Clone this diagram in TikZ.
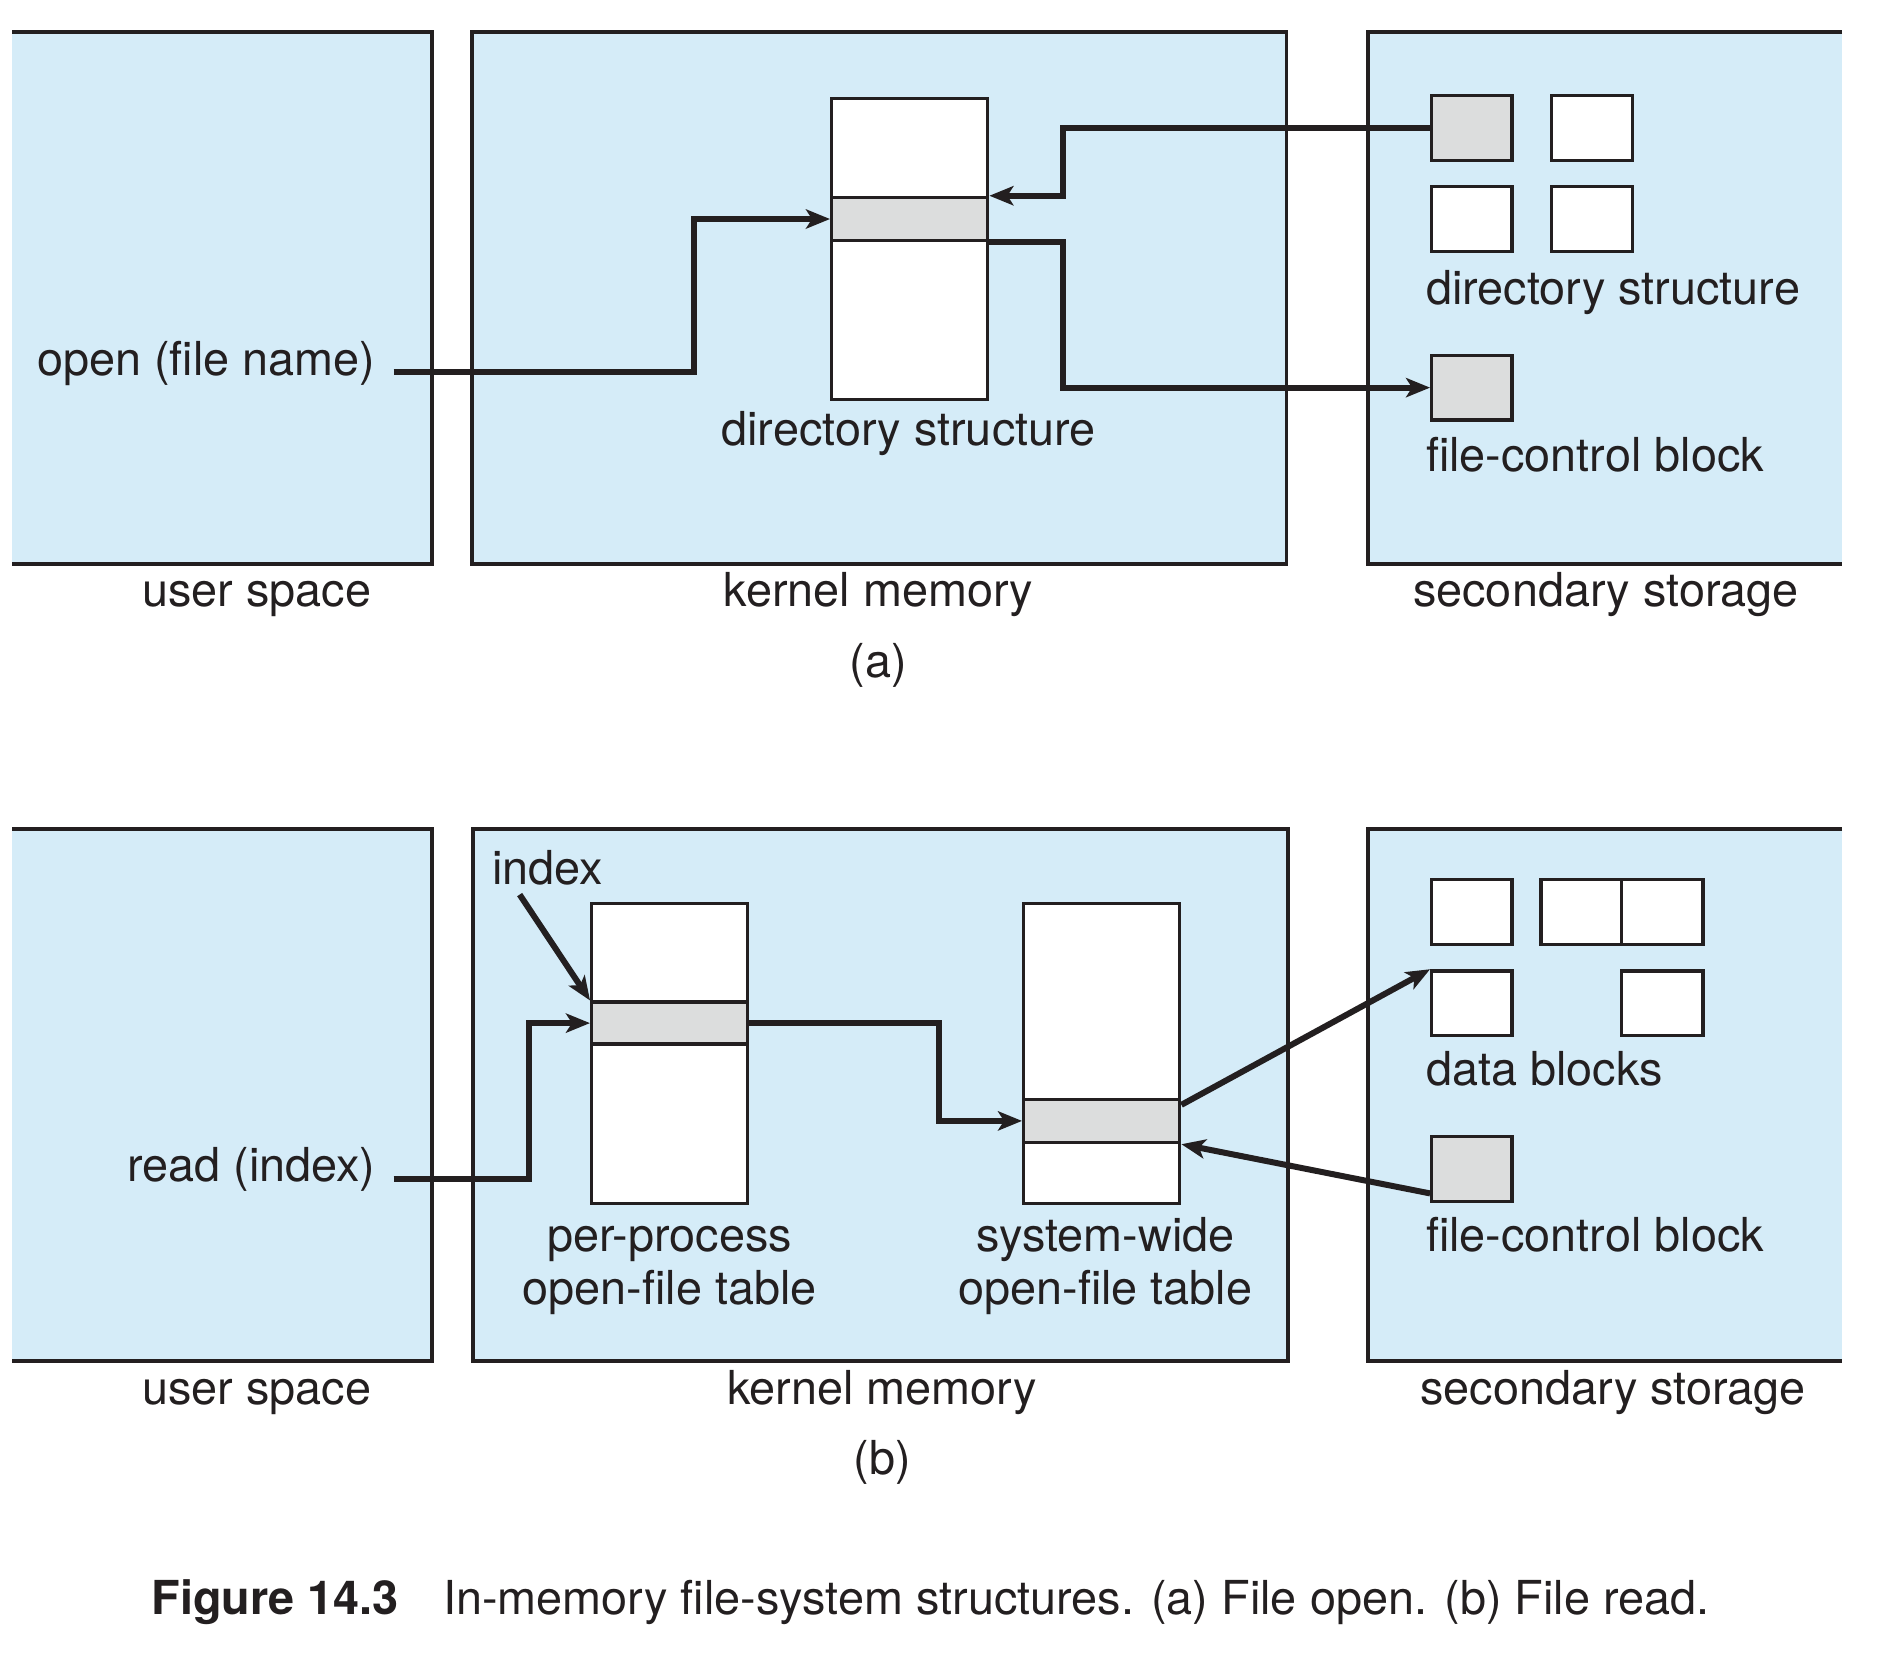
\documentclass[tikz,border=0pt]{standalone}
\usepackage{fontspec}
\setmainfont{TeX Gyre Heros}
\usetikzlibrary{arrows.meta}
\definecolor{memblue}{RGB}{213,236,248}
\definecolor{rowgray}{RGB}{220,221,221}
\definecolor{ink}{RGB}{35,31,32}
\tikzset{
  region/.style={fill=memblue,draw=none},
  rim/.style={draw=ink,line width=3.2pt},
  tbl/.style={draw=ink,line width=2.8pt,fill=white,minimum width=130pt,inner sep=0pt},
  trow/.style={draw=ink,line width=2.8pt,fill=rowgray,minimum width=130pt,minimum height=36pt,inner sep=0pt},
  blk/.style={draw=ink,line width=2.8pt,fill=white,minimum width=67pt,minimum height=54pt,inner sep=0pt},
  fcb/.style={blk,fill=rowgray},
  lbl/.style={inner sep=0pt,text=ink},
  conn/.style={draw=ink,line width=5pt,-{Stealth[length=20pt,width=16pt,inset=5pt]}},
}
\begin{document}
\begin{tikzpicture}[x=1pt,y=-1pt,every node/.style={font=\fontsize{39pt}{44pt}\selectfont}]
\useasboundingbox (0,0) rectangle (1569,1388.2);
% (a) file open
\fill[region] (10,27) rectangle (360,470);
\fill[region] (393,27) rectangle (1072,470);
\fill[region] (1140,27) rectangle (1535,470);
\draw[rim] (10,27) -- (360,27) -- (360,470) -- (10,470);
\draw[rim] (393,27) rectangle (1072,470);
\draw[rim] (1535,27) -- (1140,27) -- (1140,470) -- (1535,470);
\node[tbl,minimum height=251pt] (dirtab) at (758,207.5) {};
\node[trow] (dirrow) at (758,182.5) {};
\node[lbl,anchor=mid east] (opentxt) at (313,310) {open (file name)};
\node[lbl,anchor=mid] (dirlbl) at (757,369) {directory structure};
\node[fcb] (dirsq) at (1226.5,106.5) {};
\node[blk] (sq2) at (1326.5,106.5) {};
\node[blk] (sq3) at (1226.5,182.5) {};
\node[blk] (sq4) at (1326.5,182.5) {};
\node[lbl,anchor=mid west] (dirlbl2) at (1188,251) {directory structure};
\node[fcb] (fcbsq) at (1226.5,323) {};
\node[lbl,anchor=mid west] (fcblbl) at (1188,390) {file-control block};
\node[lbl,anchor=mid] (userA) at (214,503) {user space};
\node[lbl,anchor=mid] (kernA) at (732,503) {kernel memory};
\node[lbl,anchor=mid] (secA) at (1338,503) {secondary storage};
\node[lbl,anchor=mid] (partA) at (732,562) {(a)};
\coordinate (jogopen) at (578,0);
\coordinate (jogdir) at (886,0);
\draw[conn] ([xshift=15pt]opentxt.mid east) -| (jogopen |- dirrow.west) -- (dirrow.west);
\draw[conn] (dirsq.west) -| (jogdir |- dirrow.north east) -- (dirrow.north east);
\draw[conn] (dirrow.south east) -| (jogdir |- fcbsq.west) -- (fcbsq.west);
% (b) file read
\fill[region] (10,691) rectangle (360,1134);
\fill[region] (394,691) rectangle (1073,1134);
\fill[region] (1140,691) rectangle (1535,1134);
\draw[rim] (10,691) -- (360,691) -- (360,1134) -- (10,1134);
\draw[rim] (394,691) rectangle (1073,1134);
\draw[rim] (1535,691) -- (1140,691) -- (1140,1134) -- (1535,1134);
\node[tbl,minimum height=250pt] (pptab) at (558,878) {};
\node[trow,minimum height=35pt] (pprow) at (558,852.5) {};
\node[tbl,minimum height=250pt] (swtab) at (918,878) {};
\node[trow] (swrow) at (918,934) {};
\node[lbl,anchor=mid west] (idx) at (410,734) {index};
\node[lbl,anchor=mid east] (readtxt) at (313,982) {read (index)};
\node[lbl,anchor=mid] (pplbl) at (558,1040) {per-process};
\node[lbl,anchor=mid] (pplbl2) at (558,1084) {open-file table};
\node[lbl,anchor=mid] (swlbl) at (921,1040) {system-wide};
\node[lbl,anchor=mid] (swlbl2) at (921,1084) {open-file table};
\node[blk] (db1) at (1226.5,760) {};
\node[blk] (db2) at (1317.5,760) {};
\node[blk,minimum width=68pt] (db3) at (1385,760) {};
\node[blk] (db4) at (1226.5,836) {};
\node[blk,minimum width=68pt] (db5) at (1385,836) {};
\node[lbl,anchor=mid west] (dblbl) at (1188,902) {data blocks};
\node[fcb] (fcbsq2) at (1226.5,974) {};
\node[lbl,anchor=mid west] (fcblbl2) at (1188,1040) {file-control block};
\node[lbl,anchor=mid] (userB) at (214,1168) {user space};
\node[lbl,anchor=mid] (kernB) at (735,1168) {kernel memory};
\node[lbl,anchor=mid] (secB) at (1344,1168) {secondary storage};
\node[lbl,anchor=mid] (partB) at (735,1226) {(b)};
\coordinate (jogread) at (441,0);
\coordinate (jogpp) at (782,0);
\draw[conn] ([xshift=15pt]readtxt.mid east) -| (jogread |- pprow.west) -- (pprow.west);
\draw[conn] (pprow.east) -| (jogpp |- swrow.west) -- (swrow.west);
\draw[conn] ([xshift=23pt,yshift=-8pt]idx.south west) -- (pprow.north west);
\draw[conn] ([yshift=-6pt]swrow.north east) -- (db4.north west);
\draw[conn] ([yshift=8pt]fcbsq2.south west) -- (swrow.south east);
% caption
\node[lbl,anchor=mid west] (cap) at (126,1342.5) {\textbf{Figure 14.3}\hspace{37pt}In-memory file-system structures. (a) File open. (b) File read.};
\end{tikzpicture}
\end{document}
